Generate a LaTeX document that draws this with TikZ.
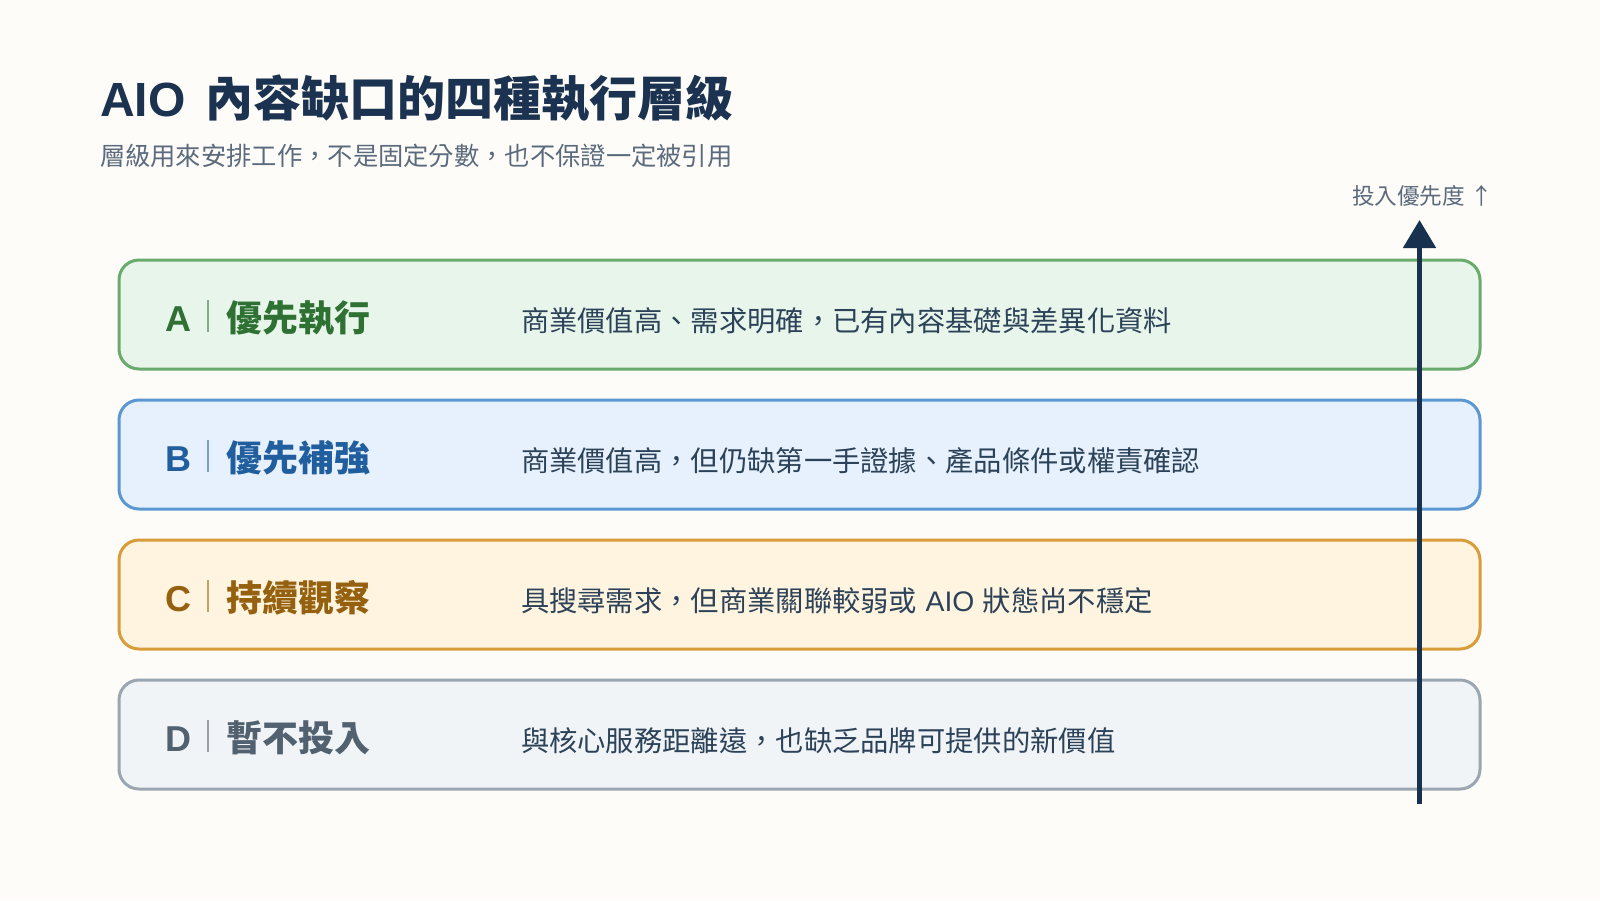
\documentclass[tikz,border=0pt]{standalone}
\usepackage{fontspec}
\setmainfont{Noto Sans CJK TC}
\newfontfamily\latin{Liberation Sans}
\usetikzlibrary{arrows.meta}
\definecolor{bgc}{HTML}{FDFCF8}
\definecolor{titlec}{HTML}{1B3350}
\definecolor{subc}{HTML}{5B6B7D}
\definecolor{descc}{HTML}{2C4258}
\definecolor{arrowc}{HTML}{17314F}
\definecolor{Aborder}{HTML}{69AA6D}
\definecolor{Afill}{HTML}{E8F5EB}
\definecolor{Atext}{HTML}{2E7133}
\definecolor{Bborder}{HTML}{5B98D2}
\definecolor{Bfill}{HTML}{E6F1FD}
\definecolor{Btext}{HTML}{215E9E}
\definecolor{Cborder}{HTML}{D99C3A}
\definecolor{Cfill}{HTML}{FFF4DF}
\definecolor{Ctext}{HTML}{95610F}
\definecolor{Dborder}{HTML}{9AA6B2}
\definecolor{Dfill}{HTML}{F1F4F7}
\definecolor{Dtext}{HTML}{526170}
\begin{document}
\begin{tikzpicture}[x=1pt,y=-1pt,
  txt/.style={anchor=base west, inner sep=0pt, outer sep=0pt},
  tierbox/.style={rectangle, rounded corners=20pt, line width=3pt,
    minimum width=1361pt, minimum height=109pt, inner sep=0pt},
  lettertxt/.style={txt, font=\fontsize{36}{42}\selectfont\latin\bfseries},
  nametxt/.style={txt, font=\fontsize{36}{42}\selectfont\bfseries},
  desctxt/.style={txt, font=\fontsize{28.3}{34}\selectfont, text=descc},
  sepline/.style={line width=1.3pt},
  prio/.style={line width=5pt, draw=arrowc, -{Triangle[width=32pt,length=28pt]}}
]
\fill[bgc] (0,0) rectangle (1600,900);
\useasboundingbox (0,0) rectangle (1600,900);

\node[txt, font=\fontsize{48}{56}\selectfont\bfseries, text=titlec] (title) at (100,116.5) {{\latin AIO}\hspace{0.42em}內容缺口的四種執行層級};
\node[txt, font=\fontsize{25.3}{30}\selectfont, text=subc] (subtitle) at (100,165.5) {層級用來安排工作，不是固定分數，也不保證一定被引用};
\node[anchor=base east, inner sep=0pt, font=\fontsize{22.6}{26}\selectfont, text=subc] (prio) at (1493,204) {投入優先度 ↑};

\foreach \k/\L/\nm/\desc in {
  0/A/優先執行/{商業價值高、需求明確，已有內容基礎與差異化資料},
  1/B/優先補強/{商業價值高，但仍缺第一手證據、產品條件或權責確認},
  2/C/持續觀察/{具搜尋需求，但商業關聯較弱或\hspace{0.3em}{\latin AIO}\hspace{0.3em}狀態尚不穩定},
  3/D/暫不投入/{與核心服務距離遠，也缺乏品牌可提供的新價值}}{
  \pgfmathsetmacro\rowtop{260+140*\k}
  \node[tierbox, draw=\L border, fill=\L fill] (box\L) at (799.5,\rowtop+54.5) {};
  \node[lettertxt, text=\L text] (let\L) at (165,\rowtop+71) {\L};
  \draw[sepline, draw=\L text!60] (208,\rowtop+40) -- (208,\rowtop+72);
  \node[nametxt, text=\L text] (name\L) at (226.5,\rowtop+71) {\nm};
  \node[desctxt] (desc\L) at (521,\rowtop+71) {\desc};
}

\coordinate (arrowbot) at (1419.5,804);
\coordinate (arrowtop) at (1419.5,220);
\draw[prio] (arrowbot) -- (arrowtop);
\end{tikzpicture}
\end{document}
